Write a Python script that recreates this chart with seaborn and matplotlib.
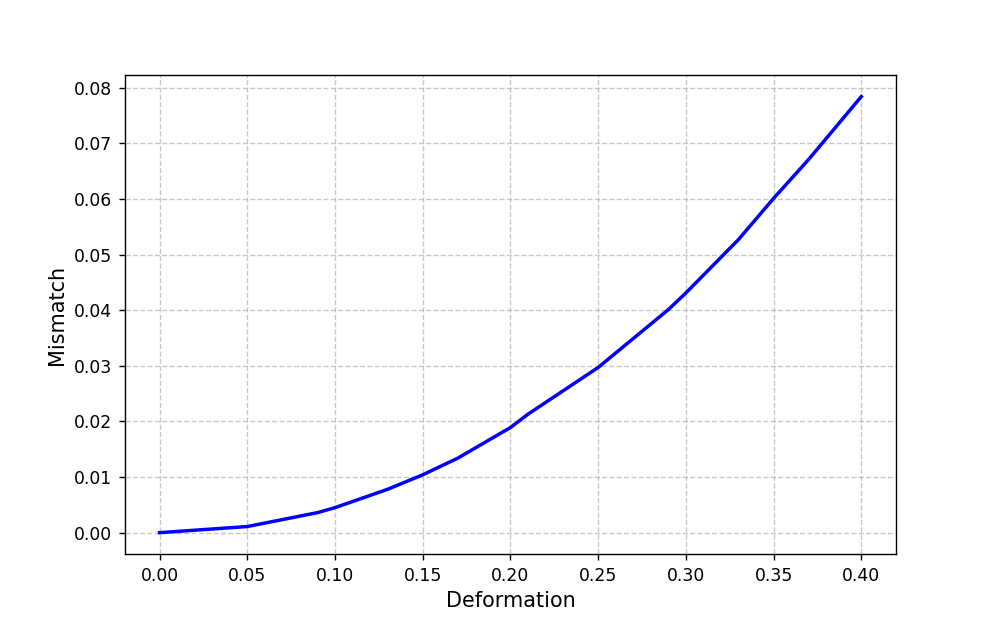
import numpy as np
import pandas as pd
import matplotlib
matplotlib.use('Agg')
import matplotlib.pyplot as plt
import seaborn as sns

deformation = [0.00, 0.05, 0.09, 0.10, 0.13, 0.15, 0.17, 0.20, 0.21,
               0.25, 0.29, 0.30, 0.33, 0.35, 0.37, 0.40]
mismatch = [0.0, 0.0011, 0.0036, 0.0045, 0.0078, 0.0104, 0.0134, 0.0189, 0.0213,
            0.0297, 0.0401, 0.0431, 0.0527, 0.0601, 0.0671, 0.0784]

df = pd.DataFrame({'Deformation': deformation, 'Mismatch': mismatch})

dpi = 124.5
fig, ax = plt.subplots(figsize=(996 / dpi, 623 / dpi), dpi=dpi)
sns.lineplot(data=df, x='Deformation', y='Mismatch', color='blue', linewidth=2, ax=ax)
ax.set_xlabel('Deformation', fontsize=12)
ax.set_ylabel('Mismatch', fontsize=12)
ax.set_xticks(np.arange(0, 0.41, 0.05))
ax.grid(True, linestyle='--', alpha=0.7)
plt.savefig('out.png', dpi=dpi)
